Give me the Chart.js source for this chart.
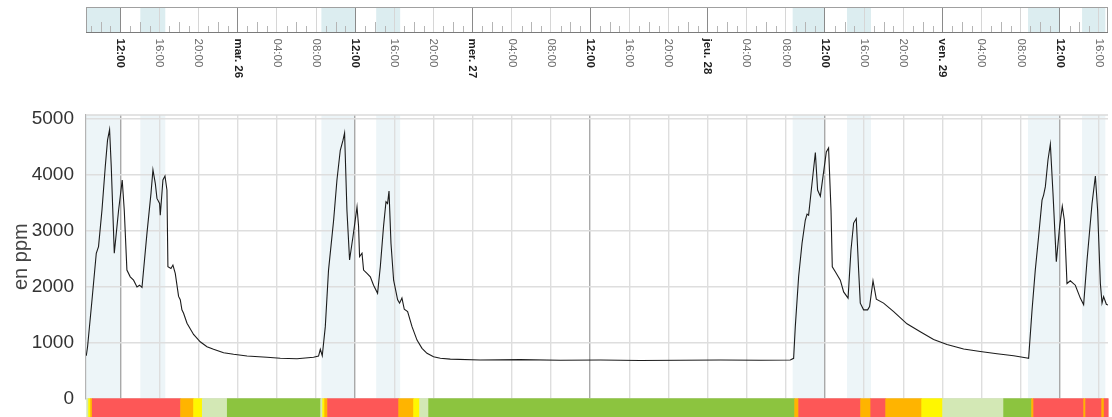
<!DOCTYPE html>
<html lang="fr">
<head>
<meta charset="utf-8">
<script src="https://cdn.jsdelivr.net/npm/chart.js@4.4.1/dist/chart.umd.min.js"></script>
<style>
  html, body { margin: 0; padding: 0; background: #fff; }
  #wrap { position: relative; width: 1112px; height: 417px; overflow: hidden; }
  #nav { position: absolute; left: 0; top: 0; }
  #main { position: absolute; left: 0; top: 100px; }
</style>
</head>
<body>
<div id="wrap">
  <canvas id="nav" width="1112" height="100"></canvas>
  <canvas id="main" width="1112" height="317"></canvas>
</div>
<script>
// heures depuis le lundi 25 mars 00:00
const heureDebut = 8.5;
const heureFin = 112.92;

// CO2 mesuré (ppm)
const heures = [
  8.53, 8.66, 9.11, 9.55, 9.78, 10.13, 10.47, 10.70, 10.91, 11.08, 11.39, 11.83, 12.20, 12.41, 12.68,
  13.02, 13.36, 13.71, 13.97, 14.22, 14.73, 15.14, 15.34, 15.58, 15.75, 16.02, 16.09, 16.36, 16.57,
  16.77, 16.87, 17.18, 17.38, 17.62, 17.96, 18.13, 18.30, 18.47, 18.82, 19.49, 20.17, 20.86, 21.53,
  22.56, 23.58, 24.95, 26.99, 28.35, 30.06, 31.75, 32.26, 32.44, 32.64, 32.95, 33.28, 33.80, 34.14,
  34.48, 34.76, 34.92, 35.16, 35.43, 35.78, 36.19, 36.35, 36.45, 36.70, 36.86, 37.21, 37.55, 37.88,
  38.29, 38.57, 38.90, 39.15, 39.31, 39.46, 39.66, 39.93, 40.34, 40.54, 40.78, 41.02, 41.36, 41.81,
  42.32, 42.83, 43.34, 44.01, 44.70, 45.72, 48.78, 52.87, 56.96, 61.05, 65.13, 69.22, 73.31, 77.40,
  80.46, 80.80, 80.97, 81.31, 81.66, 81.99, 82.17, 82.33, 82.68, 83.02, 83.25, 83.53, 83.80, 84.14,
  84.37, 84.62, 84.75, 85.06, 85.57, 85.91, 86.36, 86.66, 86.93, 87.20, 87.44, 87.61, 87.95, 88.36,
  88.56, 88.91, 89.25, 89.99, 91.02, 92.38, 93.74, 95.10, 96.47, 98.17, 99.87, 101.58, 103.28,
  104.65, 104.81, 105.16, 105.49, 105.83, 106.18, 106.34, 106.52, 106.79, 107.03, 107.30, 107.64,
  107.98, 108.25, 108.46, 108.73, 109.07, 109.58, 110.09, 110.43, 110.78, 111.29, 111.63, 111.86,
  112.14, 112.31, 112.47, 112.75, 112.92
];
const ppm = [
  760, 920, 1750, 2590, 2710, 3360, 4140, 4610, 4800, 4140, 2590, 3360, 3900, 3360, 2290,
  2170, 2110, 1990, 2020, 1980, 2950, 3660, 4080, 3840, 3570, 3480, 3270, 3900, 3970,
  3720, 2350, 2320, 2380, 2230, 1820, 1760, 1580, 1520, 1340, 1140, 1010, 920, 875,
  815, 786, 755, 732, 714, 707, 732, 755, 875, 760, 1280, 2290, 3180, 3900,
  4430, 4610, 4740, 3360, 2470, 2890, 3420, 3070, 2530, 2590, 2290, 2230, 2170, 2020,
  1875, 2350, 3070, 3510, 3480, 3700, 2770, 2110, 1760, 1700, 1790, 1590, 1550, 1280,
  1040, 893, 804, 743, 714, 700, 684, 690, 680, 684, 675, 680, 684, 680,
  684, 714, 1280, 2170, 2770, 3180, 3290, 3270, 3840, 4390, 3720, 3610, 3960, 4400,
  4470, 3360, 2350, 2260, 2110, 1900, 1790, 2650, 3130, 3210, 2290, 1700, 1580, 1580,
  1640, 2100, 1770, 1700, 1547, 1330, 1190, 1050, 960, 880, 835, 795, 760,
  720, 714, 1577, 2290, 2890, 3540, 3630, 3780, 4260, 4540, 3660, 2440,
  3070, 3430, 3180, 2050, 2100, 2020, 1790, 1670, 2470, 3480, 3970, 3360,
  2050, 1700, 1815, 1680, 1666
];

// périodes de cours (zones bleutées)
const coursDebut = [8.5, 14.05, 32.55, 38.15, 80.7, 86.25, 104.75, 110.27];
const coursFin = [12, 16.6, 36, 40.6, 84, 88.7, 108, 112.65];

// barre de qualité de l'air : début de chaque segment et niveau
// 0 bon, 1 correct, 2 moyen, 3 médiocre, 4 mauvais
const qualiteDebut = [8.53, 8.73, 8.93, 9.11, 18.13, 19.46, 20.35, 22.90, 32.44, 32.64, 32.85, 33.15,
  40.41, 41.94, 42.55, 43.47, 80.87, 81.28, 87.61, 88.64, 90.17, 93.85, 95.99, 102.22, 105.08,
  105.29, 110.40, 110.60, 112.24, 112.49];
const qualiteNiveau = [1, 2, 3, 4, 3, 2, 1, 0, 1, 2, 3, 4,
  3, 2, 1, 0, 3, 4, 3, 4, 3, 2, 1, 0, 3,
  4, 3, 4, 3, 4];

// axes
const tickHeures = [12, 16, 20, 24, 28, 32, 36, 40, 44, 48, 52, 56, 60, 64, 68, 72, 76, 80, 84, 88,
  92, 96, 100, 104, 108, 112];
const tickTextes = ['12:00', '16:00', '20:00', 'mar. 26', '04:00', '08:00', '12:00', '16:00', '20:00',
  'mer. 27', '04:00', '08:00', '12:00', '16:00', '20:00', 'jeu. 28', '04:00', '08:00', '12:00',
  '16:00', '20:00', 'ven. 29', '04:00', '08:00', '12:00', '16:00'];
const yTicks = [0, 1000, 2000, 3000, 4000, 5000];

const FONT = "'Liberation Sans', Arial, sans-serif";
const couleursNiveau = ['#8cc43f', '#d3e8b5', '#fff700', '#ffb400', '#fd5757'];

const estFort = (h) => h % 12 === 0;

// ---------- navigateur du haut ----------
const navPlugin = {
  id: 'navPlugin',
  beforeDraw(chart) {
    const { ctx, chartArea: a, scales: { x } } = chart;
    ctx.save();
    ctx.fillStyle = '#dcedf0';
    coursDebut.forEach((d, i) => {
      const x0 = Math.max(x.getPixelForValue(d), a.left);
      const x1 = Math.min(x.getPixelForValue(coursFin[i]), a.right);
      ctx.fillRect(x0, a.top, x1 - x0, a.bottom - a.top);
    });
    ctx.restore();
  },
  afterDraw(chart) {
    const { ctx, chartArea: a, scales: { x } } = chart;
    ctx.save();
    // petites graduations horaires
    ctx.strokeStyle = '#b5b5b5';
    ctx.lineWidth = 1;
    for (let h = Math.ceil(heureDebut); h <= heureFin; h++) {
      if (h % 4 === 0) continue;
      const px = Math.round(x.getPixelForValue(h)) + 0.5;
      const len = h % 2 === 0 ? 10 : 6;
      ctx.beginPath();
      ctx.moveTo(px, a.bottom);
      ctx.lineTo(px, a.bottom - len);
      ctx.stroke();
    }
    // cadre
    ctx.strokeStyle = '#a0a0a0';
    ctx.strokeRect(a.left + 0.5, a.top + 0.5, a.right - a.left - 1, a.bottom - a.top);
    ctx.strokeStyle = '#7a7a7a';
    ctx.beginPath();
    ctx.moveTo(a.left, a.bottom + 0.5);
    ctx.lineTo(a.right, a.bottom + 0.5);
    ctx.stroke();
    // étiquettes verticales
    tickHeures.forEach((h, i) => {
      const px = x.getPixelForValue(h);
      const fort = estFort(h);
      ctx.save();
      ctx.translate(px, a.bottom + 6.5);
      ctx.rotate(Math.PI / 2);
      ctx.font = (fort ? 'bold ' : '') + '11.5px ' + FONT;
      ctx.fillStyle = fort ? '#1e1e1e' : '#6a6a6a';
      ctx.textAlign = 'left';
      ctx.textBaseline = 'middle';
      ctx.fillText(tickTextes[i], 0, 0);
      ctx.restore();
    });
    ctx.restore();
  }
};

new Chart('nav', {
  type: 'line',
  data: { datasets: [] },
  options: {
    responsive: false,
    animation: false,
    layout: { padding: { left: 86, right: 4, top: 7, bottom: 68 } },
    plugins: { legend: { display: false }, tooltip: { enabled: false } },
    scales: {
      x: {
        type: 'linear', min: heureDebut, max: heureFin,
        afterBuildTicks: (s) => { s.ticks = tickHeures.map(v => ({ value: v })); },
        ticks: { display: false },
        border: { display: false },
        grid: {
          drawTicks: false,
          color: (c) => estFort(c.tick.value) ? '#8a8a8a' : '#d6d6d6',
          lineWidth: 1
        }
      },
      y: { display: false }
    }
  },
  plugins: [navPlugin]
});

// ---------- graphique principal ----------
const fondCours = {
  id: 'fondCours',
  beforeDraw(chart) {
    const { ctx, chartArea: a, scales: { x } } = chart;
    ctx.save();
    ctx.fillStyle = '#edf5f8';
    coursDebut.forEach((d, i) => {
      const x0 = Math.max(x.getPixelForValue(d), a.left);
      const x1 = Math.min(x.getPixelForValue(coursFin[i]), a.right);
      ctx.fillRect(x0, a.top, x1 - x0, a.bottom - a.top);
    });
    ctx.restore();
  },
  afterDraw(chart) {
    const { ctx, chartArea: a, scales: { x } } = chart;
    ctx.save();
    // ligne du haut
    ctx.strokeStyle = '#dadada';
    ctx.lineWidth = 1.5;
    ctx.beginPath();
    ctx.moveTo(a.left, a.top);
    ctx.lineTo(a.right, a.top);
    ctx.stroke();
    // barre de qualité
    qualiteDebut.forEach((d, i) => {
      const fin = i + 1 < qualiteDebut.length ? qualiteDebut[i + 1] : heureFin;
      const x0 = x.getPixelForValue(d);
      const x1 = x.getPixelForValue(fin);
      ctx.fillStyle = couleursNiveau[qualiteNiveau[i]];
      ctx.fillRect(x0, a.bottom, x1 - x0 + 0.6, 24);
    });
    ctx.restore();
  }
};

new Chart('main', {
  type: 'line',
  data: {
    datasets: [{
      data: heures.map((h, i) => ({ x: h, y: ppm[i] })),
      borderColor: '#1c1c1c',
      borderWidth: 1.1,
      pointRadius: 0,
      tension: 0
    }]
  },
  options: {
    responsive: false,
    animation: false,
    layout: { padding: { left: 0, right: 4, top: 15, bottom: 18.7 } },
    plugins: { legend: { display: false }, tooltip: { enabled: false } },
    scales: {
      x: {
        type: 'linear', min: heureDebut, max: heureFin,
        afterBuildTicks: (s) => { s.ticks = tickHeures.map(v => ({ value: v })); },
        ticks: { display: false },
        border: { display: false },
        grid: {
          drawTicks: false,
          color: (c) => c.tick && c.tick.value % 24 === 12 ? '#a9a9a9' : '#dedede',
          lineWidth: 1.4
        }
      },
      y: {
        min: 0, max: 5060,
        afterBuildTicks: (s) => { s.ticks = yTicks.map(v => ({ value: v })); },
        afterFit: (s) => { s.width = 86; s.paddingTop = 0; s.paddingBottom = 0; },
        ticks: {
          padding: 12,
          color: '#333',
          font: { family: FONT, size: 19 },
          callback: (v) => String(v)
        },
        border: { display: true, color: '#b4b4b4', width: 1.2 },
        grid: { drawTicks: false, color: '#dedede', lineWidth: 1.4 },
        title: {
          display: true,
          text: 'en ppm',
          color: '#444',
          font: { family: FONT, size: 20 },
          padding: { top: 9, bottom: 0 }
        }
      }
    }
  },
  plugins: [fondCours]
});
</script>
</body>
</html>
